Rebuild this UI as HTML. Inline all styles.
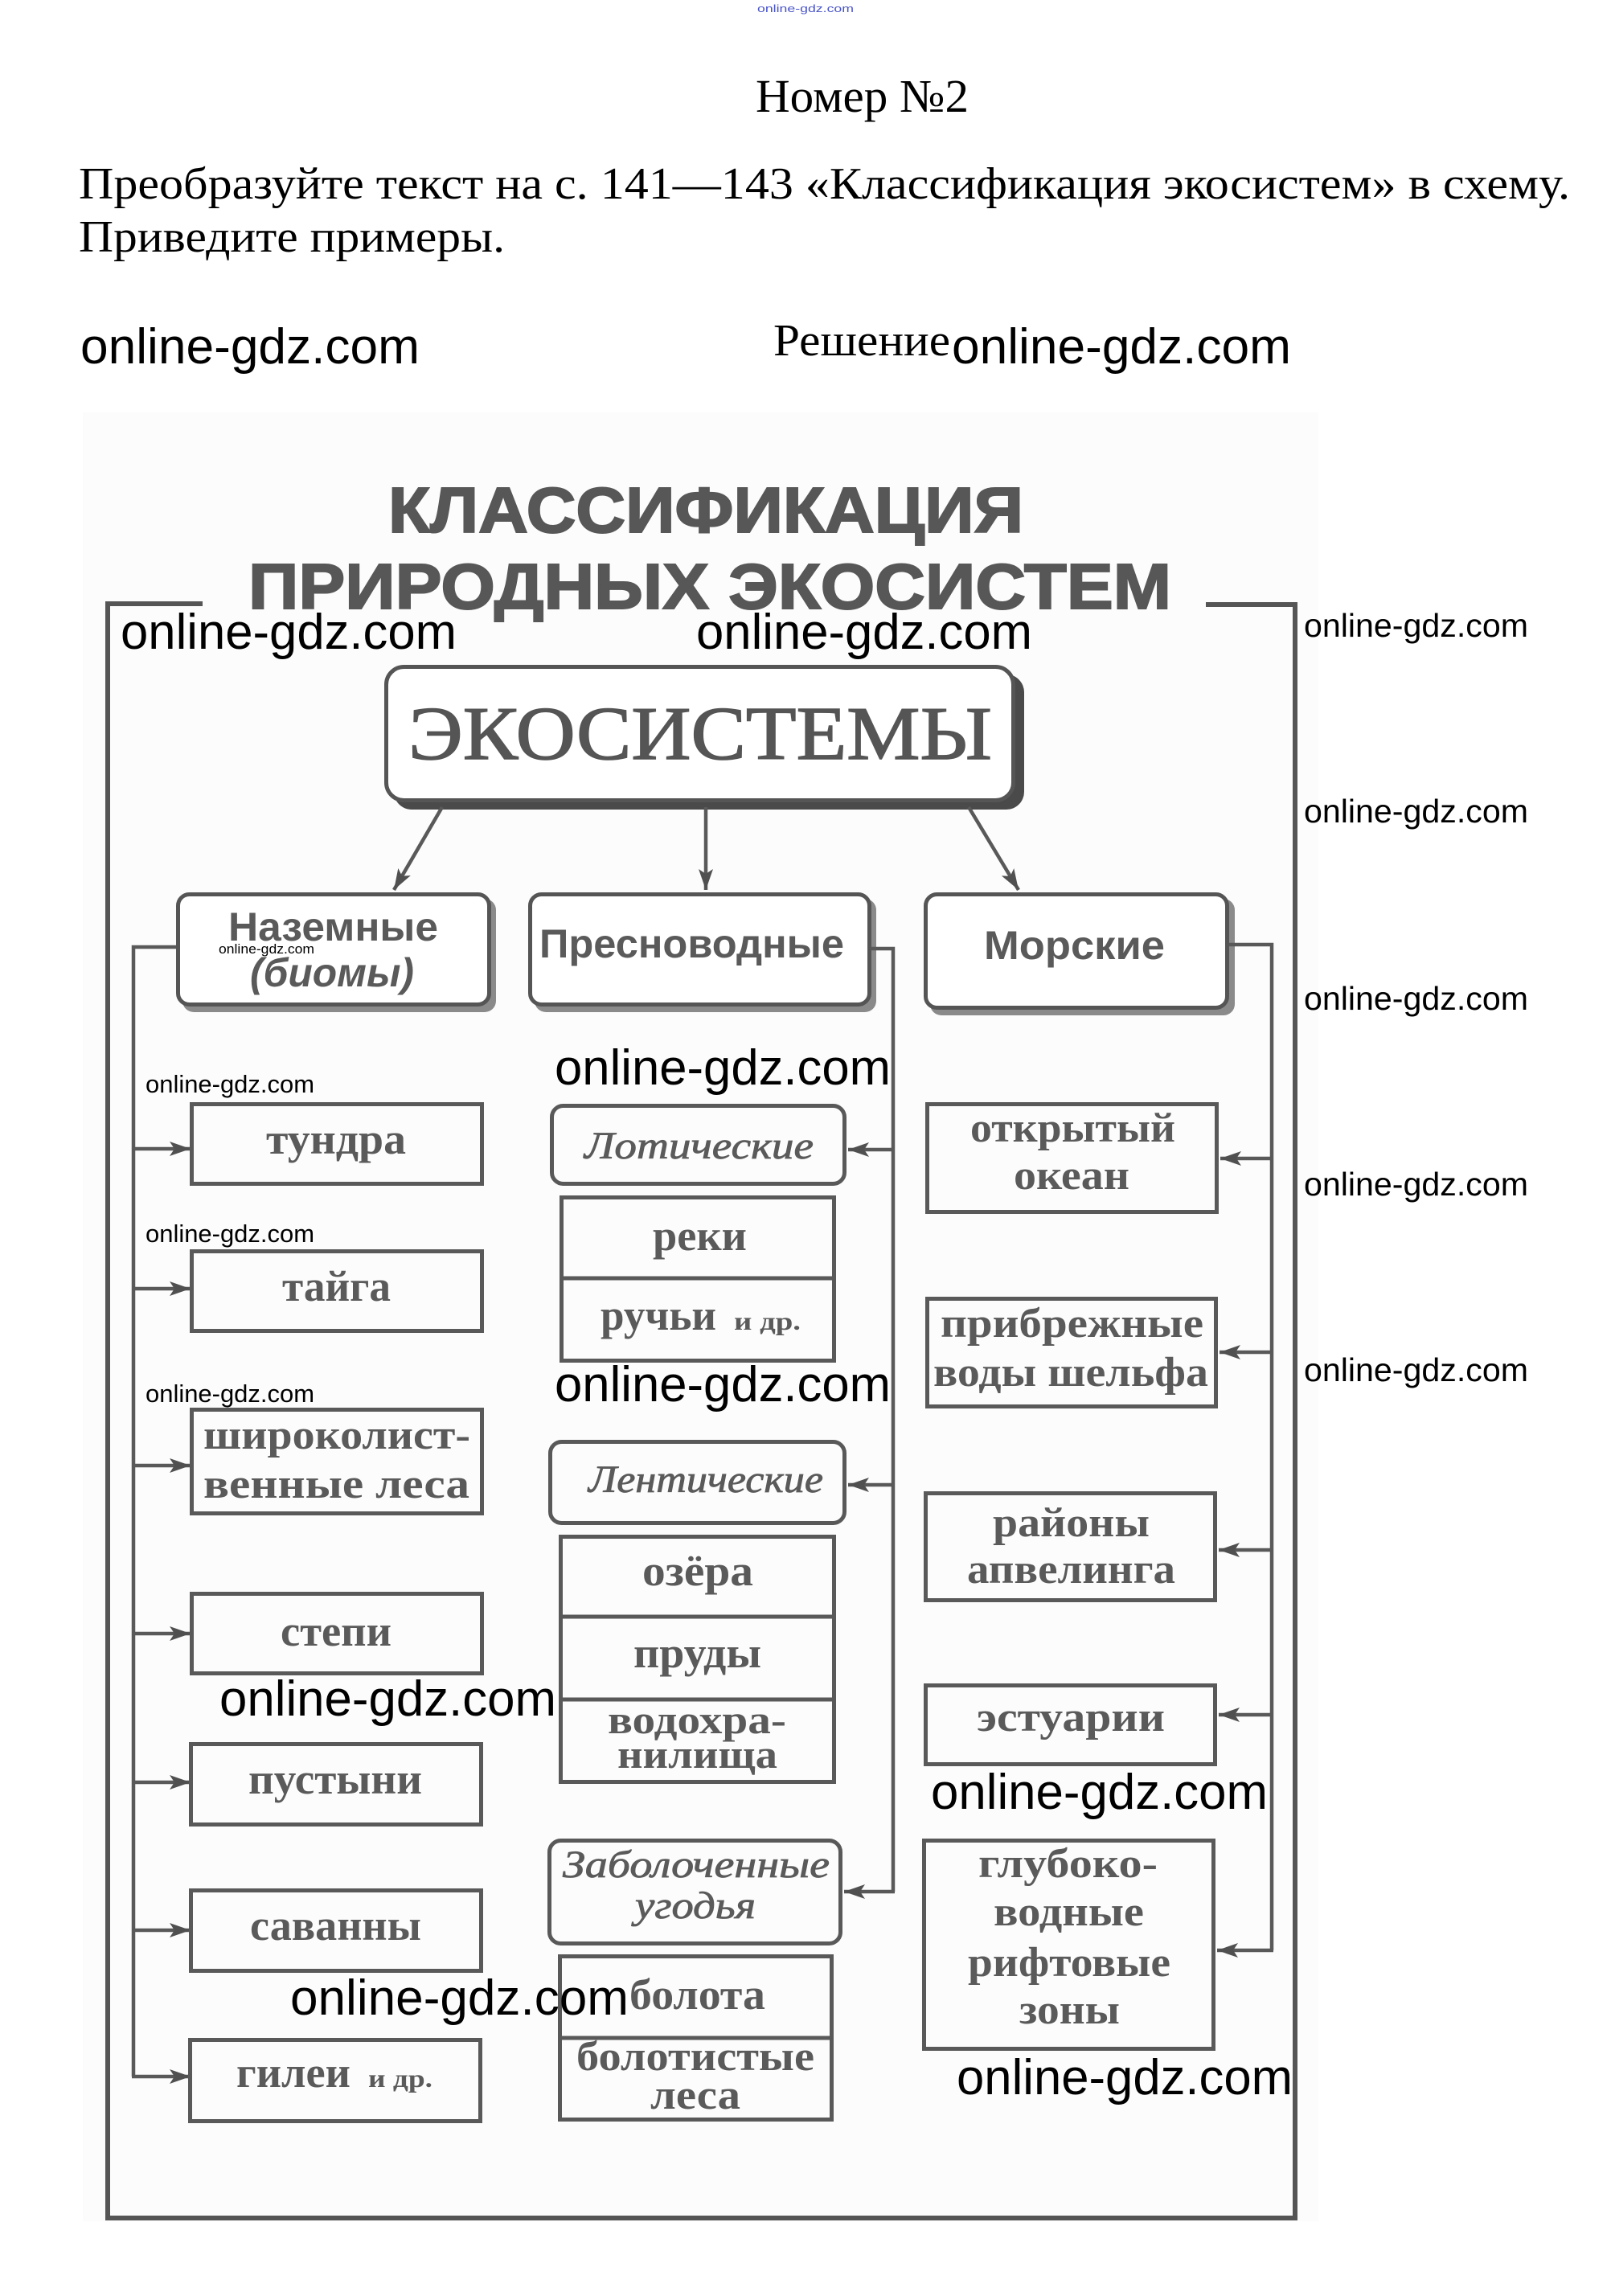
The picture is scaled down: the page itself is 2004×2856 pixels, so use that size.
<!DOCTYPE html>
<html>
<head>
<meta charset="utf-8">
<style>
  html,body{margin:0;padding:0;background:#fff;}
  svg{display:block;}
  .ser{font-family:"Liberation Serif","DejaVu Serif",serif;}
  .san{font-family:"Liberation Sans","DejaVu Sans",sans-serif;}
  .lab{font-family:"Liberation Serif","DejaVu Serif",serif;font-weight:bold;fill:#5a5a5a;}
  .ital{font-family:"Liberation Serif","DejaVu Serif",serif;font-style:italic;fill:#5a5a5a;stroke:#5a5a5a;stroke-width:0.8;}
  .wm{font-family:"Liberation Sans","DejaVu Sans",sans-serif;fill:#000;}
  .box{fill:none;stroke:#595959;stroke-width:5;}
  .ln{fill:none;stroke:#595959;stroke-width:4.5;}
</style>
</head>
<body>
<svg width="2004" height="2856" viewBox="0 0 2004 2856" xmlns="http://www.w3.org/2000/svg">
  <defs>
    <marker id="ah" viewBox="0 0 26 18" refX="26" refY="9" markerWidth="26" markerHeight="18" markerUnits="userSpaceOnUse" orient="auto">
      <path d="M0,0 L26,9 L0,18 L6,9 Z" fill="#505050"/>
    </marker>
  </defs>

  <rect x="0" y="0" width="2004" height="2856" fill="#fff"/>
  <!-- scanned area background -->
  <rect x="103" y="513" width="1537" height="2250" fill="#fcfcfc"/>

  <!-- header -->
  <text x="942" y="15" class="san" font-size="13" fill="#4a55c8" textLength="120" lengthAdjust="spacingAndGlyphs">online-gdz.com</text>
  <text x="940" y="139" class="ser" font-size="58" fill="#000" textLength="265" lengthAdjust="spacingAndGlyphs">Номер №2</text>
  <text x="98" y="247" class="ser" font-size="56" fill="#000" textLength="1855" lengthAdjust="spacingAndGlyphs">Преобразуйте текст на с. 141—143 «Классификация экосистем» в схему.</text>
  <text x="98" y="313" class="ser" font-size="56" fill="#000" textLength="530" lengthAdjust="spacingAndGlyphs">Приведите примеры.</text>
  <text x="962" y="442" class="ser" font-size="56" fill="#000" textLength="220" lengthAdjust="spacingAndGlyphs">Решение</text>
  <text x="100" y="452" class="wm" font-size="62" textLength="422" lengthAdjust="spacingAndGlyphs">online-gdz.com</text>
  <text x="1184" y="452" class="wm" font-size="62" textLength="422" lengthAdjust="spacingAndGlyphs">online-gdz.com</text>

  <!-- diagram title -->
  <text x="483" y="662" class="san" font-weight="bold" font-size="80" fill="#575757" stroke="#575757" stroke-width="2" textLength="790" lengthAdjust="spacingAndGlyphs">КЛАССИФИКАЦИЯ</text>
  <text x="309" y="757" class="san" font-weight="bold" font-size="80" fill="#575757" stroke="#575757" stroke-width="2" textLength="1148" lengthAdjust="spacingAndGlyphs">ПРИРОДНЫХ ЭКОСИСТЕМ</text>

  <!-- outer frame -->
  <path d="M252,751 H134 V2759 H1611 V752 H1500" fill="none" stroke="#555" stroke-width="6"/>

  <!-- ЭКОСИСТЕМЫ -->
  <rect x="490" y="839" width="784" height="168" rx="22" fill="#4a4a4a"/>
  <rect x="480.5" y="829.5" width="780" height="166" rx="22" fill="#fff" stroke="#555" stroke-width="5"/>
  <text x="508" y="944" class="ser" font-size="94" fill="#555" stroke="#555" stroke-width="1.5" textLength="726" lengthAdjust="spacingAndGlyphs">ЭКОСИСТЕМЫ</text>

  <!-- arrows from main -->
  <line x1="550" y1="1004" x2="490" y2="1107" class="ln" stroke-width="3.5" marker-end="url(#ah)"/>
  <line x1="878" y1="1004" x2="878" y2="1107" class="ln" stroke-width="3.5" marker-end="url(#ah)"/>
  <line x1="1205" y1="1004" x2="1267" y2="1107" class="ln" stroke-width="3.5" marker-end="url(#ah)"/>

  <!-- category boxes -->
  <rect x="227" y="1118" width="390" height="141" rx="14" fill="#8a8a8a"/>
  <rect x="221.5" y="1112.5" width="387" height="137" rx="14" fill="#fff" stroke="#555" stroke-width="5"/>
  <text x="284" y="1170" class="san" font-weight="bold" font-size="50" fill="#5a5a5a" textLength="261" lengthAdjust="spacingAndGlyphs">Наземные</text>
  <text x="311" y="1227" class="san" font-weight="bold" font-style="italic" font-size="50" fill="#5a5a5a" textLength="204" lengthAdjust="spacingAndGlyphs">(биомы)</text>
  <text x="272" y="1186" class="wm" font-size="17" textLength="119" lengthAdjust="spacingAndGlyphs">online-gdz.com</text>

  <rect x="665" y="1118" width="425" height="141" rx="14" fill="#8a8a8a"/>
  <rect x="659.5" y="1112.5" width="422" height="137" rx="14" fill="#fff" stroke="#555" stroke-width="5"/>
  <text x="671" y="1191" class="san" font-weight="bold" font-size="50" fill="#5a5a5a" textLength="379" lengthAdjust="spacingAndGlyphs">Пресноводные</text>

  <rect x="1157" y="1118" width="379" height="145" rx="14" fill="#8a8a8a"/>
  <rect x="1151.5" y="1112.5" width="375" height="141" rx="14" fill="#fff" stroke="#555" stroke-width="5"/>
  <text x="1224" y="1193" class="san" font-weight="bold" font-size="50" fill="#5a5a5a" textLength="225" lengthAdjust="spacingAndGlyphs">Морские</text>

  <!-- left connector -->
  <path d="M219,1178 H166 V2583" class="ln"/>
  <line x1="166" y1="1429" x2="237" y2="1429" class="ln" marker-end="url(#ah)"/>
  <line x1="166" y1="1603" x2="237" y2="1603" class="ln" marker-end="url(#ah)"/>
  <line x1="166" y1="1823" x2="237" y2="1823" class="ln" marker-end="url(#ah)"/>
  <line x1="166" y1="2032" x2="237" y2="2032" class="ln" marker-end="url(#ah)"/>
  <line x1="166" y1="2217" x2="237" y2="2217" class="ln" marker-end="url(#ah)"/>
  <line x1="166" y1="2401" x2="237" y2="2401" class="ln" marker-end="url(#ah)"/>
  <line x1="164" y1="2583" x2="237" y2="2583" class="ln" marker-end="url(#ah)"/>

  <!-- left boxes -->
  <rect x="238.5" y="1373.5" width="361" height="99" class="box"/>
  <text x="331" y="1435" class="lab" font-size="54" textLength="174" lengthAdjust="spacingAndGlyphs">тундра</text>

  <rect x="238.5" y="1556.5" width="361" height="99" class="box"/>
  <text x="351" y="1618" class="lab" font-size="54" textLength="135" lengthAdjust="spacingAndGlyphs">тайга</text>

  <rect x="238.5" y="1753.5" width="361" height="129" class="box"/>
  <text x="253" y="1802" class="lab" font-size="52" textLength="332" lengthAdjust="spacingAndGlyphs">широколист-</text>
  <text x="253" y="1863" class="lab" font-size="52" textLength="331" lengthAdjust="spacingAndGlyphs">венные  леса</text>

  <rect x="238.5" y="1982.5" width="361" height="99" class="box"/>
  <text x="349" y="2047" class="lab" font-size="54" textLength="138" lengthAdjust="spacingAndGlyphs">степи</text>

  <rect x="237.5" y="2169.5" width="361" height="100" class="box"/>
  <text x="309" y="2231" class="lab" font-size="54" textLength="216" lengthAdjust="spacingAndGlyphs">пустыни</text>

  <rect x="237.5" y="2351.5" width="361" height="100" class="box"/>
  <text x="311" y="2413" class="lab" font-size="54" textLength="213" lengthAdjust="spacingAndGlyphs">саванны</text>

  <rect x="236.5" y="2537.5" width="361" height="101" class="box"/>
  <text x="294" y="2596" class="lab" font-size="54" textLength="142" lengthAdjust="spacingAndGlyphs">гилеи</text>
  <text x="458" y="2596" class="lab" font-size="32" textLength="80" lengthAdjust="spacingAndGlyphs">и др.</text>

  <!-- middle connector -->
  <path d="M1083,1180 H1111 V2353" class="ln"/>
  <line x1="1111" y1="1430" x2="1055" y2="1430" class="ln" marker-end="url(#ah)"/>
  <line x1="1111" y1="1847" x2="1055" y2="1847" class="ln" marker-end="url(#ah)"/>
  <line x1="1113" y1="2353" x2="1050" y2="2353" class="ln" marker-end="url(#ah)"/>

  <!-- middle boxes -->
  <rect x="686.5" y="1375.5" width="364" height="97" rx="14" class="box"/>
  <text x="727" y="1441" class="ital" font-size="48" textLength="285" lengthAdjust="spacingAndGlyphs">Лотические</text>

  <rect x="698.5" y="1489.5" width="339" height="203" class="box"/>
  <line x1="698" y1="1590" x2="1038" y2="1590" stroke="#595959" stroke-width="5"/>
  <text x="812" y="1555" class="lab" font-size="54" textLength="117" lengthAdjust="spacingAndGlyphs">реки</text>
  <text x="747" y="1654" class="lab" font-size="54" textLength="144" lengthAdjust="spacingAndGlyphs">ручьи</text>
  <text x="913" y="1654" class="lab" font-size="32" textLength="83" lengthAdjust="spacingAndGlyphs">и др.</text>

  <rect x="684.5" y="1793.5" width="366" height="101" rx="14" class="box"/>
  <text x="732" y="1856" class="ital" font-size="48" textLength="292" lengthAdjust="spacingAndGlyphs">Лентические</text>

  <rect x="697.5" y="1911.5" width="340" height="305" class="box"/>
  <line x1="697" y1="2011" x2="1038" y2="2011" stroke="#595959" stroke-width="5"/>
  <line x1="697" y1="2114" x2="1038" y2="2114" stroke="#595959" stroke-width="5"/>
  <text x="799" y="1972" class="lab" font-size="54" textLength="138" lengthAdjust="spacingAndGlyphs">озёра</text>
  <text x="788" y="2074" class="lab" font-size="54" textLength="159" lengthAdjust="spacingAndGlyphs">пруды</text>
  <text x="756" y="2156" class="lab" font-size="50" textLength="222" lengthAdjust="spacingAndGlyphs">водохра-</text>
  <text x="768" y="2199" class="lab" font-size="50" textLength="199" lengthAdjust="spacingAndGlyphs">нилища</text>

  <rect x="683.5" y="2289.5" width="362" height="128" rx="14" class="box"/>
  <text x="700" y="2335" class="ital" font-size="48" textLength="332" lengthAdjust="spacingAndGlyphs">Заболоченные</text>
  <text x="790" y="2386" class="ital" font-size="48" textLength="150" lengthAdjust="spacingAndGlyphs">угодья</text>

  <rect x="696.5" y="2433.5" width="338" height="203" class="box"/>
  <line x1="696" y1="2535" x2="1035" y2="2535" stroke="#595959" stroke-width="5"/>
  <text x="783" y="2499" class="lab" font-size="54" textLength="169" lengthAdjust="spacingAndGlyphs">болота</text>
  <text x="717" y="2575" class="lab" font-size="52" textLength="296" lengthAdjust="spacingAndGlyphs">болотистые</text>
  <text x="809" y="2623" class="lab" font-size="52" textLength="112" lengthAdjust="spacingAndGlyphs">леса</text>

  <!-- right connector -->
  <path d="M1529,1175 H1582 V2426" class="ln"/>
  <line x1="1582" y1="1441" x2="1518" y2="1441" class="ln" marker-end="url(#ah)"/>
  <line x1="1582" y1="1682" x2="1517" y2="1682" class="ln" marker-end="url(#ah)"/>
  <line x1="1582" y1="1928" x2="1516" y2="1928" class="ln" marker-end="url(#ah)"/>
  <line x1="1582" y1="2133" x2="1516" y2="2133" class="ln" marker-end="url(#ah)"/>
  <line x1="1584" y1="2426" x2="1514" y2="2426" class="ln" marker-end="url(#ah)"/>

  <!-- right boxes -->
  <rect x="1153.5" y="1373.5" width="360" height="134" class="box"/>
  <text x="1207" y="1420" class="lab" font-size="52" textLength="255" lengthAdjust="spacingAndGlyphs">открытый</text>
  <text x="1261" y="1479" class="lab" font-size="52" textLength="144" lengthAdjust="spacingAndGlyphs">океан</text>

  <rect x="1153.5" y="1615.5" width="359" height="134" class="box"/>
  <text x="1170" y="1663" class="lab" font-size="52" textLength="327" lengthAdjust="spacingAndGlyphs">прибрежные</text>
  <text x="1161" y="1724" class="lab" font-size="52" textLength="342" lengthAdjust="spacingAndGlyphs">воды  шельфа</text>

  <rect x="1151.5" y="1857.5" width="360" height="133" class="box"/>
  <text x="1235" y="1911" class="lab" font-size="52" textLength="195" lengthAdjust="spacingAndGlyphs">районы</text>
  <text x="1203" y="1969" class="lab" font-size="52" textLength="259" lengthAdjust="spacingAndGlyphs">апвелинга</text>

  <rect x="1151.5" y="2096.5" width="360" height="98" class="box"/>
  <text x="1215" y="2153" class="lab" font-size="52" textLength="234" lengthAdjust="spacingAndGlyphs">эстуарии</text>

  <rect x="1149.5" y="2289.5" width="360" height="259" class="box"/>
  <text x="1217" y="2335" class="lab" font-size="52" textLength="223" lengthAdjust="spacingAndGlyphs">глубоко-</text>
  <text x="1236" y="2395" class="lab" font-size="52" textLength="187" lengthAdjust="spacingAndGlyphs">водные</text>
  <text x="1204" y="2458" class="lab" font-size="52" textLength="252" lengthAdjust="spacingAndGlyphs">рифтовые</text>
  <text x="1268" y="2517" class="lab" font-size="52" textLength="125" lengthAdjust="spacingAndGlyphs">зоны</text>

  <!-- watermarks over diagram -->
  <text x="150" y="807" class="wm" font-size="62" textLength="418" lengthAdjust="spacingAndGlyphs">online-gdz.com</text>
  <text x="866" y="807" class="wm" font-size="62" textLength="418" lengthAdjust="spacingAndGlyphs">online-gdz.com</text>
  <text x="690" y="1349" class="wm" font-size="62" textLength="418" lengthAdjust="spacingAndGlyphs">online-gdz.com</text>
  <text x="690" y="1743" class="wm" font-size="62" textLength="418" lengthAdjust="spacingAndGlyphs">online-gdz.com</text>
  <text x="273" y="2134" class="wm" font-size="62" textLength="419" lengthAdjust="spacingAndGlyphs">online-gdz.com</text>
  <text x="1158" y="2250" class="wm" font-size="62" textLength="419" lengthAdjust="spacingAndGlyphs">online-gdz.com</text>
  <text x="361" y="2506" class="wm" font-size="62" textLength="421" lengthAdjust="spacingAndGlyphs">online-gdz.com</text>
  <text x="1190" y="2605" class="wm" font-size="62" textLength="418" lengthAdjust="spacingAndGlyphs">online-gdz.com</text>

  <text x="181" y="1359" class="wm" font-size="31" textLength="210" lengthAdjust="spacingAndGlyphs">online-gdz.com</text>
  <text x="181" y="1545" class="wm" font-size="31" textLength="210" lengthAdjust="spacingAndGlyphs">online-gdz.com</text>
  <text x="181" y="1744" class="wm" font-size="31" textLength="210" lengthAdjust="spacingAndGlyphs">online-gdz.com</text>

  <text x="1622" y="792" class="wm" font-size="41" textLength="279" lengthAdjust="spacingAndGlyphs">online-gdz.com</text>
  <text x="1622" y="1023" class="wm" font-size="41" textLength="279" lengthAdjust="spacingAndGlyphs">online-gdz.com</text>
  <text x="1622" y="1256" class="wm" font-size="41" textLength="279" lengthAdjust="spacingAndGlyphs">online-gdz.com</text>
  <text x="1622" y="1487" class="wm" font-size="41" textLength="279" lengthAdjust="spacingAndGlyphs">online-gdz.com</text>
  <text x="1622" y="1718" class="wm" font-size="41" textLength="279" lengthAdjust="spacingAndGlyphs">online-gdz.com</text>
</svg>
</body>
</html>
